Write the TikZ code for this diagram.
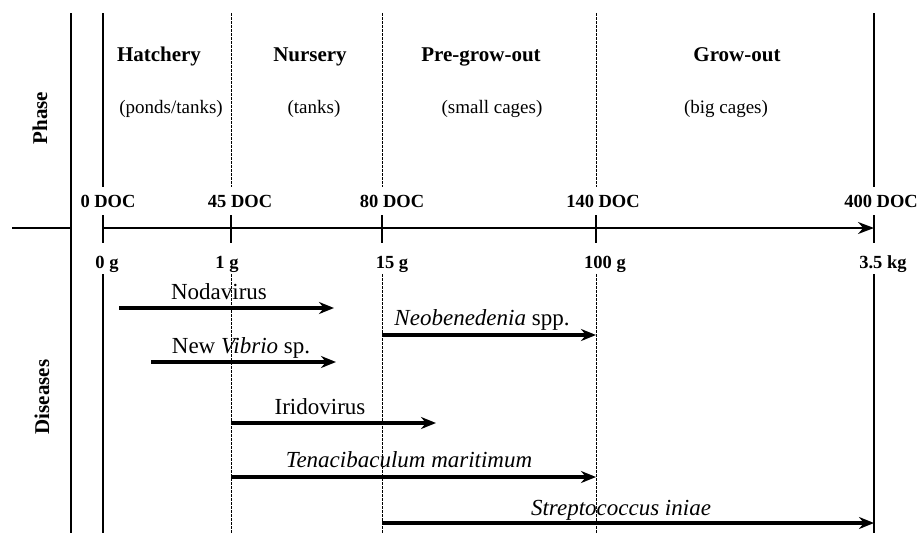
\documentclass[tikz,border=0pt]{standalone}
\usepackage{fontspec}
\setmainfont{Liberation Serif}
\usetikzlibrary{arrows.meta,positioning}

\begin{document}
\begin{tikzpicture}[x=1pt,y=-1pt, stage/.style={line width=1.7pt}, cut/.style={line width=1pt,dash pattern=on 2.5pt off 1.5pt}, tck/.style={line width=2pt}, axis/.style={line width=2pt,-{Stealth[length=16pt,width=12pt]}}, dis/.style={line width=3.5pt,-{Stealth[length=15pt,width=12pt]}}, lbl/.style={anchor=base,inner sep=0pt,font=\fontsize{23}{27}\selectfont}, phase/.style={anchor=base,inner sep=0pt,font=\bfseries\fontsize{21}{25}\selectfont}, place/.style={anchor=base,inner sep=0pt,font=\fontsize{19}{23}\selectfont}, doc/.style={anchor=base,inner sep=0pt,font=\bfseries\fontsize{18.5}{22}\selectfont}, side/.style={rotate=90,inner sep=0pt,font=\bfseries\fontsize{21}{25}\selectfont}]
\useasboundingbox (0,0) rectangle (918,533);
% frame on the left
\draw[line width=1.3pt] (71,13) -- (71,533); \draw[line width=1.3pt] (12,228) -- (71,228);
\node[side] (ph) at (40,118) {Phase};
\node[side] (dis) at (42,397) {Diseases};
% phase borders
\draw[stage] (103,13) -- (103,187); \draw[stage] (103,274) -- (103,533);
\draw[stage] (874,13) -- (874,187); \draw[stage] (874,274) -- (874,533);
\draw[cut] (231,13) -- (231,187); \draw[cut] (231,274) -- (231,533);
\draw[cut] (382,13) -- (382,187); \draw[cut] (382,274) -- (382,533);
\draw[cut] (596,13) -- (596,187); \draw[cut] (596,274) -- (596,533);
% phases
\node[phase] (hatch) at (159,61) {Hatchery};
\node[phase] (nurs) at (310,61) {Nursery};
\node[phase] (pregrow) at (481,61) {Pre-grow-out};
\node[phase] (grow) at (737,61) {Grow-out};
\node[place] (hatchsub) at (171,113) {(ponds/tanks)};
\node[place] (nurssub) at (314,113) {(tanks)};
\node[place] (pregrowsub) at (492,113) {(small cages)};
\node[place] (growsub) at (726,113) {(big cages)};
% time axis
\coordinate (d0) at (103,228); \coordinate (d45) at (231,228); \coordinate (d80) at (382,228); \coordinate (d140) at (596,228); \coordinate (d400) at (874,228);
\draw[axis] (d0) -- (d400);
\draw[tck] (103,215) -- (103,243); \draw[tck] (231,215) -- (231,243); \draw[tck] (382,215) -- (382,243); \draw[tck] (596,215) -- (596,243); \draw[tck] (874,215) -- (874,243);
\node[doc] (t0) at (108,207) {0 DOC};
\node[doc] (t45) at (240,207) {45 DOC};
\node[doc] (t80) at (392,207) {80 DOC};
\node[doc] (t140) at (603,207) {140 DOC};
\node[doc] (t400) at (881,207) {400 DOC};
\node[doc] (w0) at (107,268) {0 g};
\node[doc] (w1) at (227,268) {1 g};
\node[doc] (w15) at (392,268) {15 g};
\node[doc] (w100) at (605,268) {100 g};
\node[doc] (w3500) at (883,268) {3.5 kg};
% diseases
\coordinate (noda1) at (119,308); \coordinate (noda2) at (334,308);
\coordinate (neo1) at (382,335); \coordinate (neo2) at (596,335);
\coordinate (vib1) at (151,362); \coordinate (vib2) at (336,362);
\coordinate (iri1) at (231,423); \coordinate (iri2) at (436,423);
\coordinate (ten1) at (231,477); \coordinate (ten2) at (596,477);
\coordinate (str1) at (382,523); \coordinate (str2) at (874,523);
\draw[dis] (noda1) -- (noda2); \draw[dis] (neo1) -- (neo2); \draw[dis] (vib1) -- (vib2);
\draw[dis] (iri1) -- (iri2); \draw[dis] (ten1) -- (ten2); \draw[dis] (str1) -- (str2);
\node[lbl] (noda) at (219,299) {Nodavirus};
\node[lbl] (neo) at (482,325) {\textit{Neobenedenia} spp.};
\node[lbl] (vib) at (241,353) {New \textit{Vibrio} sp.};
\node[lbl] (iri) at (320,414) {Iridovirus};
\node[lbl] (ten) at (409,467) {\textit{Tenacibaculum maritimum}};
\node[lbl] (str) at (621,515) {\textit{Streptococcus iniae}};
\end{tikzpicture}
\end{document}
